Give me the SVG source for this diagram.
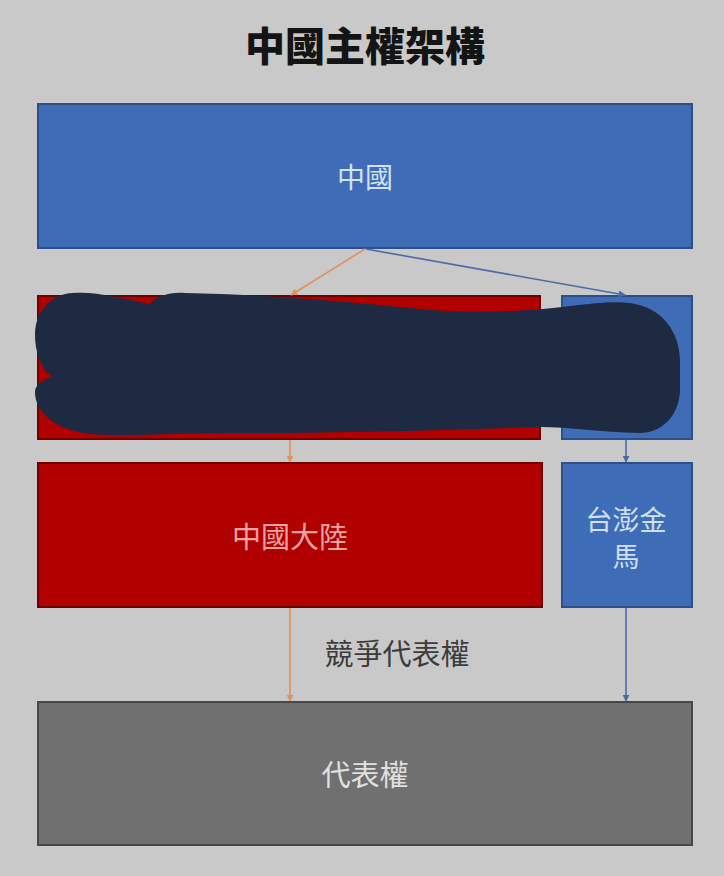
<svg xmlns="http://www.w3.org/2000/svg" width="724" height="876" viewBox="0 0 724 876">
  <style>
    .cjk { font-family: "Noto Sans CJK TC", "Noto Sans CJK SC", sans-serif; }
    .blue { fill: #3f6cb6; stroke: #2c4f8c; stroke-width: 2; }
    .red { fill: #b10000; stroke: #6e0000; stroke-width: 2; }
    .gray { fill: #707070; stroke: #474747; stroke-width: 2; }
    .orange-line { stroke: #e0915c; stroke-width: 1.6; fill: none; }
    .blue-line { stroke: #4b6aa6; stroke-width: 1.6; fill: none; }
  </style>
  <defs>
    <marker id="arrO" viewBox="0 0 10 10" refX="9" refY="5" markerWidth="7" markerHeight="7" orient="auto" markerUnits="userSpaceOnUse">
      <path d="M0,0 L10,5 L0,10 Z" fill="#e0915c"/>
    </marker>
    <marker id="arrB" viewBox="0 0 10 10" refX="9" refY="5" markerWidth="7" markerHeight="7" orient="auto" markerUnits="userSpaceOnUse">
      <path d="M0,0 L10,5 L0,10 Z" fill="#4b6aa6"/>
    </marker>
  </defs>
  <rect x="0" y="0" width="724" height="876" fill="#c9c9c9"/>
  <text x="365" y="61" text-anchor="middle" class="cjk" font-size="40" font-weight="900" fill="#141414">中國主權架構</text>

  <g id="node-china">
    <rect class="blue" x="38" y="104" width="654" height="144"/>
    <text x="365" y="188" text-anchor="middle" class="cjk" font-size="28" fill="#d3e2f8">中國</text>
  </g>
  <g id="node-red-top">
    <rect class="red" x="38" y="296" width="502" height="143"/>
  </g>
  <g id="node-blue-top">
    <rect class="blue" x="562" y="296" width="130" height="143"/>
  </g>
  <g id="node-mainland">
    <rect class="red" x="38" y="463" width="504" height="144"/>
    <text x="290" y="548" text-anchor="middle" class="cjk" font-size="29" fill="#f2a3a3">中國大陸</text>
  </g>
  <g id="node-taiwan">
    <rect class="blue" x="562" y="463" width="130" height="144"/>
    <text x="626" y="530" text-anchor="middle" class="cjk" font-size="27" fill="#cfe0f8">台澎金</text>
    <text x="626" y="567" text-anchor="middle" class="cjk" font-size="27" fill="#cfe0f8">馬</text>
  </g>
  <g id="node-representation">
    <rect class="gray" x="38" y="702" width="654" height="143"/>
    <text x="365" y="786" text-anchor="middle" class="cjk" font-size="29" fill="#e0e0e0">代表權</text>
  </g>

  <g id="connectors">
    <line class="orange-line" x1="365" y1="249" x2="291" y2="295" marker-end="url(#arrO)"/>
    <line class="blue-line" x1="366" y1="249" x2="625" y2="295" marker-end="url(#arrB)"/>
    <line class="orange-line" x1="290" y1="440" x2="290" y2="462" marker-end="url(#arrO)"/>
    <line class="blue-line" x1="626" y1="440" x2="626" y2="462" marker-end="url(#arrB)"/>
    <line class="orange-line" x1="290" y1="608" x2="290" y2="701" marker-end="url(#arrO)"/>
    <line class="blue-line" x1="626" y1="608" x2="626" y2="701" marker-end="url(#arrB)"/>
  </g>
  <text x="397" y="665" text-anchor="middle" class="cjk" font-size="29" fill="#3c3c3c">競爭代表權</text>

  <path id="redaction" fill="#1e2a41" d="M 73,293 C 95,291 120,298 150,304 C 158,296 168,292 185,293 C 280,295 360,303 430,310 C 480,314 530,311 570,306 C 595,303 615,301 630,303 C 665,308 681,335 680,365 L 680,392 C 678,418 660,433 640,433 C 600,432 570,427 540,427 C 450,430 350,433 250,433 C 170,433 120,437 90,434 C 55,430 35,412 35,392 C 35,385 42,380 52,377 C 40,368 35,350 35,335 C 35,310 52,294 73,293 Z"/>
</svg>
